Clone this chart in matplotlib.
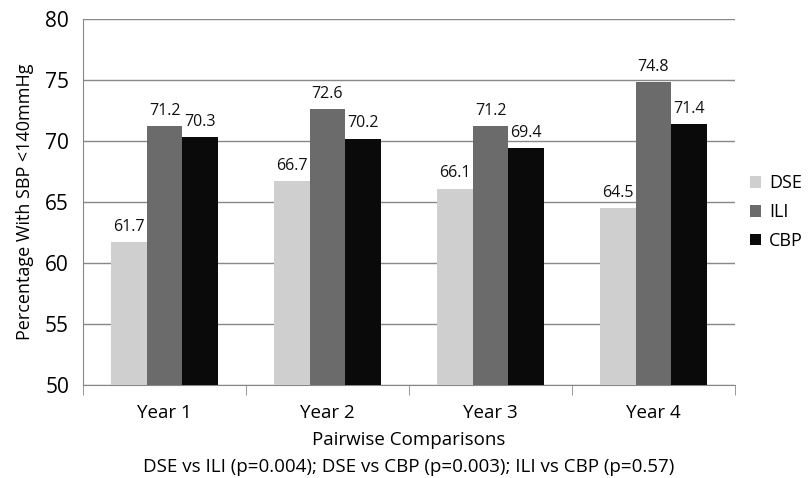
import matplotlib.pyplot as plt
import numpy as np

plt.rcParams['font.family'] = ['Open Sans', 'DejaVu Sans']

years = ['Year 1', 'Year 2', 'Year 3', 'Year 4']
dse = [61.7, 66.7, 66.1, 64.5]
ili = [71.2, 72.6, 71.2, 74.8]
cbp = [70.3, 70.2, 69.4, 71.4]

x = np.arange(len(years))
width = 0.22

fig = plt.figure(figsize=(8.11, 4.78), dpi=100)
ax = fig.add_axes([83/811, 93/478, 652/811, 366/478])

series = [(dse, 'DSE', '#cfcfcf'), (ili, 'ILI', '#6b6b6b'), (cbp, 'CBP', '#0a0a0a')]
for i, (vals, name, col) in enumerate(series):
    pos = x + (i - 1) * width
    ax.bar(pos, vals, width, bottom=0, color=col, label=name, zorder=3)
    for p, v in zip(pos, vals):
        ax.text(p, v + 0.6, f'{v:.1f}', ha='center', va='bottom', fontsize=11.5, color='#111111')

ax.set_ylim(50, 80)
ax.set_xlim(-0.5, 3.5)
ax.set_yticks(range(50, 81, 5))
ax.yaxis.grid(True, color='#888888', linewidth=1, zorder=0)
ax.tick_params(axis='y', length=0, labelsize=15, pad=10)
ax.set_xticks(x)
ax.set_xticklabels(years, fontsize=13.5)
ax.tick_params(axis='x', length=0, pad=14)
ax.set_xticks(np.arange(-0.5, 4, 1), minor=True)
ax.tick_params(axis='x', which='minor', length=7, color='#888888', direction='out')

for s in ['top', 'right']:
    ax.spines[s].set_visible(False)
ax.spines['left'].set_color('#888888')
ax.spines['bottom'].set_color('#888888')

ax.set_ylabel('Percentage With SBP <140mmHg', fontsize=13, labelpad=8)
ax.set_xlabel('Pairwise Comparisons\nDSE vs ILI (p=0.004); DSE vs CBP (p=0.003); ILI vs CBP (p=0.57)',
              fontsize=13.5, labelpad=6, linespacing=1.65)

ax.legend(loc='center left', bbox_to_anchor=(1.004, 0.472), frameon=False, fontsize=13,
          handlelength=0.6, handleheight=0.6, labelspacing=0.6, handletextpad=0.45,
          borderaxespad=0.3)

fig.savefig('out.png', dpi=100)
